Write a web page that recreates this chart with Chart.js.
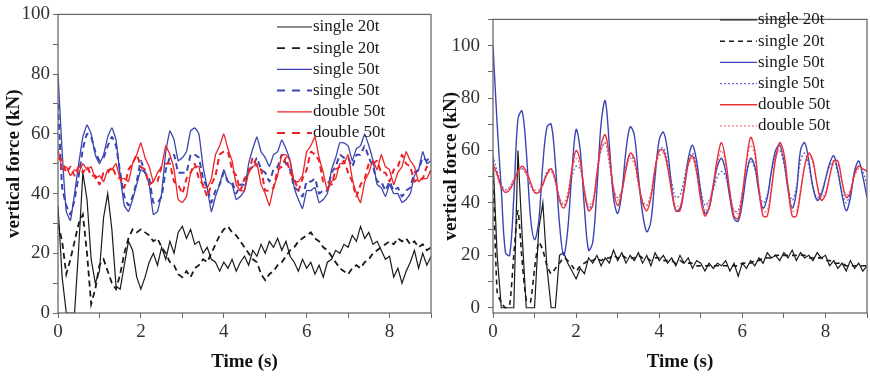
<!DOCTYPE html>
<html>
<head>
<meta charset="utf-8">
<script src="https://cdn.jsdelivr.net/npm/chart.js@4.4.1/dist/chart.umd.min.js"></script>
<style>
    html, body { margin: 0; padding: 0; background: #fff; }
    #wrap { position: relative; width: 870px; height: 376px; }
    .panel { position: absolute; top: 0; height: 376px; }
    #leftBox { left: 0; width: 437px; }
    #rightBox { left: 437px; width: 433px; }
</style>
</head>
<body>
<div id="wrap">
    <div class="panel" id="leftBox"><canvas id="leftChart"></canvas></div>
    <div class="panel" id="rightBox"><canvas id="rightChart"></canvas></div>
</div>
<script>
// ─── Data (sampled every 0.1 s, 0 … 9 s) ───
const TIME_STEP = 0.1;
const seriesLabels = ['single 20t', 'single 20t', 'single 50t', 'single 50t', 'double 50t', 'double 50t'];

// left panel
const leftSingle20 = [
    36, 12, 0, 0, 0, 22, 47, 38, 18, 10,
    14, 32, 40, 28, 9, 8, 16, 24, 21, 12,
    8, 12, 17, 20, 16, 22, 18, 24, 20, 27,
    29, 25, 28, 23, 24, 20, 22, 18, 17, 14,
    17, 15, 18, 14, 17, 19, 16, 21, 19, 23,
    20, 24, 22, 25, 21, 24, 19, 17, 14, 18,
    15, 17, 13, 16, 12, 17, 18, 21, 20, 23,
    22, 26, 24, 29, 25, 27, 23, 24, 21, 18,
    19, 12, 15, 10, 14, 17, 21, 15, 20, 16,
    19
];
const leftSingle20b = [
    30, 24, 13, 18, 24, 30, 33, 20, 3, 8,
    16, 18, 14, 10, 8, 13, 20, 25, 28, 27,
    28, 27, 26, 24, 25, 22, 20, 17, 16, 13,
    12, 14, 12, 15, 16, 18, 17, 20, 23, 26,
    28, 29, 27, 26, 24, 22, 20, 18, 17, 13,
    11, 13, 14, 16, 17, 19, 21, 22, 24, 25,
    26, 27, 25, 24, 22, 21, 19, 17, 15, 14,
    13, 15, 16, 15, 17, 18, 20, 21, 22, 23,
    24, 23, 25, 24, 25, 23, 24, 22, 23, 21,
    22
];
const leftSingle50 = [
    80, 54, 34, 31, 40, 50, 59, 63, 60, 53,
    50, 53, 59, 62, 58, 46, 36, 34, 38, 43,
    48, 47, 43, 33, 34, 40, 54, 61, 58, 51,
    52, 54, 61, 62, 60, 49, 42, 34, 39, 43,
    48, 44, 43, 38, 39, 41, 50, 55, 59, 54,
    52, 49, 53, 54, 58, 55, 51, 42, 38, 35,
    41, 41, 42, 37, 38, 40, 48, 52, 57, 57,
    56, 51, 55, 56, 60, 56, 51, 43, 42, 39,
    43, 40, 40, 37, 38, 40, 46, 48, 54, 50,
    51
];
const leftSingle50b = [
    70, 42, 36, 33, 38, 46, 55, 60, 59, 54,
    51, 52, 56, 59, 56, 47, 39, 36, 39, 44,
    51, 47, 45, 37, 37, 39, 48, 52, 53, 47,
    47, 47, 53, 53, 52, 45, 42, 37, 41, 43,
    47, 44, 44, 40, 43, 43, 48, 49, 52, 48,
    47, 44, 48, 49, 53, 50, 48, 42, 41, 39,
    44, 44, 45, 40, 41, 41, 47, 49, 53, 52,
    52, 49, 53, 53, 56, 52, 49, 44, 44, 41,
    44, 41, 42, 39, 41, 42, 47, 48, 52, 51,
    53
];
const leftDouble50 = [
    55, 48, 49, 46, 48, 47, 50, 48, 49, 45,
    46, 44, 48, 48, 50, 45, 45, 44, 50, 53,
    57, 52, 49, 44, 47, 49, 56, 53, 48, 38,
    37, 39, 47, 49, 49, 42, 42, 45, 53, 56,
    60, 55, 51, 43, 41, 41, 47, 49, 50, 43,
    40, 36, 42, 46, 53, 53, 51, 44, 44, 46,
    54, 56, 59, 52, 47, 41, 44, 45, 50, 50,
    53, 45, 40, 37, 44, 47, 51, 48, 53, 49,
    48, 43, 47, 49, 54, 51, 49, 44, 45, 45,
    48
];
const leftDouble50b = [
    52, 51, 47, 49, 46, 49, 47, 49, 46, 46,
    43, 47, 47, 49, 46, 45, 42, 48, 50, 53,
    49, 48, 43, 44, 44, 49, 50, 50, 44, 43,
    40, 45, 47, 50, 45, 43, 39, 43, 46, 53,
    54, 54, 48, 46, 41, 45, 47, 52, 49, 48,
    41, 41, 42, 48, 49, 52, 47, 45, 41, 45,
    48, 54, 53, 51, 44, 44, 43, 48, 49, 51,
    47, 44, 39, 43, 45, 50, 50, 51, 47, 47,
    44, 48, 49, 53, 50, 49, 44, 45, 45, 49,
    47
];

// right panel
const rightSingle20 = [
    57, 20, 0, 0, 0, 0, 60, 28, 0, 0,
    0, 30, 40, 15, 0, 0, 20, 21, 17, 14,
    11, 15, 13, 19, 17, 20, 16, 19, 17, 22,
    18, 21, 17, 20, 18, 21, 17, 20, 16, 21,
    18, 20, 17, 19, 16, 20, 17, 19, 15, 18,
    17, 14, 17, 15, 17, 16, 18, 14, 17, 12,
    17, 15, 18, 16, 19, 17, 21, 19, 20, 18,
    21, 19, 22, 18, 21, 19, 20, 18, 21, 19,
    20, 16, 18, 15, 17, 14, 18, 15, 17, 14,
    16
];
const rightSingle20b = [
    52, 6, 2, 0, 1, 20, 37, 18, 3, 2,
    15, 25, 22, 16, 13, 15, 17, 19, 18, 16,
    14, 16, 17, 18, 18, 19, 18, 19, 19, 20,
    19, 20, 19, 19, 19, 20, 19, 19, 18, 19,
    19, 18, 18, 18, 17, 18, 17, 17, 17, 16,
    16, 16, 16, 16, 16, 16, 16, 16, 16, 16,
    17, 17, 17, 18, 18, 19, 19, 19, 20, 20,
    20, 20, 20, 20, 20, 20, 19, 19, 19, 19,
    18, 18, 17, 17, 17, 16, 16, 16, 16, 16,
    16
];
const rightSingle50 = [
    100, 70, 45, 21, 20, 42, 72, 75, 60, 35,
    26, 33, 55, 69, 70, 55, 32, 20, 30, 52,
    68, 60, 38, 22, 25, 45, 70, 79, 62, 42,
    36, 44, 60, 69, 66, 50, 36, 29, 33, 50,
    64, 67, 60, 46, 37, 38, 46, 57, 62, 56,
    44, 36, 38, 46, 54, 57, 52, 42, 34, 33,
    40, 51, 57, 54, 44, 38, 42, 52, 60, 62,
    56, 45, 38, 44, 60, 63, 56, 46, 41, 43,
    49, 55, 58, 52, 43, 37, 42, 52, 56, 50,
    42
];
const rightSingle50b = [
    58, 52, 47, 45, 46, 49, 52, 53, 51, 47,
    44, 44, 47, 52, 53, 48, 42, 39, 42, 50,
    54, 53, 45, 38, 40, 50, 60, 63, 55, 45,
    42, 45, 54, 58, 56, 47, 40, 39, 43, 53,
    60, 61, 56, 48, 42, 43, 49, 56, 59, 54,
    45, 39, 41, 45, 50, 52, 50, 43, 37, 37,
    44, 52, 56, 53, 45, 40, 43, 52, 58, 60,
    55, 46, 41, 46, 56, 59, 54, 46, 42, 44,
    49, 54, 56, 51, 44, 40, 44, 51, 54, 52,
    47
];
const rightDouble50 = [
    55, 51, 46, 44, 45, 48, 52, 54, 52, 48,
    44, 44, 47, 51, 53, 49, 41, 38, 42, 53,
    60, 56, 44, 37, 39, 51, 62, 66, 58, 45,
    39, 44, 53, 59, 57, 48, 40, 37, 42, 53,
    60, 60, 54, 44, 37, 37, 45, 55, 58, 52,
    41, 35, 38, 47, 57, 63, 56, 44, 35, 34,
    43, 56, 65, 60, 45, 35, 35, 45, 57, 63,
    59, 46, 35, 35, 44, 54, 59, 56, 47, 41,
    43, 50, 56, 56, 48, 42, 44, 51, 54, 53,
    52
];
const rightDouble50b = [
    54, 50, 46, 45, 46, 49, 52, 53, 51, 47,
    45, 45, 48, 51, 52, 48, 42, 40, 44, 52,
    57, 54, 45, 39, 41, 51, 60, 63, 56, 46,
    41, 45, 52, 57, 55, 47, 41, 39, 44, 53,
    58, 59, 53, 45, 39, 39, 46, 54, 57, 51,
    42, 37, 40, 47, 55, 60, 55, 45, 37, 36,
    44, 55, 62, 58, 46, 37, 37, 46, 56, 61,
    57, 46, 37, 37, 45, 54, 58, 55, 47, 42,
    44, 50, 55, 55, 48, 43, 45, 50, 53, 53,
    52
];

const xTickLabels = [0, 2, 4, 6, 8];
const yTickLabels = [0, 20, 40, 60, 80, 100];

// ─── helpers ───
const SERIF = "'Liberation Serif', 'Times New Roman', serif";
const toPoints = arr => arr.map((v, i) => ({ x: +(i * TIME_STEP).toFixed(1), y: v }));

function makeDatasets(values, styles) {
    return values.map((vals, i) => ({
        label: seriesLabels[i],
        data: toPoints(vals),
        borderColor: styles[i].color,
        borderWidth: styles[i].width,
        borderDash: styles[i].dash,
        tension: styles[i].tension,
        order: styles[i].order,
        pointRadius: 0,
        fill: false
    }));
}

// frame around the plot area + hand-drawn legend (line sample + text)
const framePlugin = {
    id: 'frame',
    afterDatasetsDraw(chart) {
        const { ctx, chartArea: a } = chart;
        ctx.save();
        ctx.strokeStyle = '#6a6a6a';
        ctx.lineWidth = 1.3;
        ctx.strokeRect(a.left, a.top, a.right - a.left, a.bottom - a.top);
        ctx.restore();
    }
};

const lineLegend = {
    id: 'lineLegend',
    afterDraw(chart, args, opts) {
        const ctx = chart.ctx;
        ctx.save();
        ctx.font = opts.font;
        ctx.textBaseline = 'middle';
        chart.data.datasets.forEach((ds, i) => {
            const y = opts.top + i * opts.rowGap;
            ctx.strokeStyle = ds.borderColor;
            ctx.lineWidth = ds.borderWidth;
            ctx.setLineDash(opts.dashes[i]);
            ctx.beginPath();
            ctx.moveTo(opts.x0, y);
            ctx.lineTo(opts.x1, y);
            ctx.stroke();
            ctx.setLineDash([]);
            ctx.fillStyle = '#1a1a1a';
            ctx.fillText(ds.label, opts.x1 + 1, y);
        });
        ctx.restore();
    }
};

function makeOptions(cfg) {
    return {
        responsive: true,
        maintainAspectRatio: false,
        animation: false,
        layout: { padding: { left: 0, top: cfg.padTop, right: cfg.padRight, bottom: 0 } },
        plugins: {
            legend: { display: false },
            tooltip: { enabled: false },
            lineLegend: cfg.legend
        },
        scales: {
            x: {
                type: 'linear',
                min: 0,
                max: 9,
                afterFit: s => { s.height = 63; },
                ticks: {
                    stepSize: 1,
                    autoSkip: false,
                    maxRotation: 0,
                    padding: 3,
                    color: '#333',
                    font: { family: SERIF, size: 19 },
                    callback: v => xTickLabels.includes(v) ? v : ''
                },
                grid: { drawOnChartArea: false, tickLength: 5, tickColor: '#666' },
                border: { display: false },
                title: {
                    display: true,
                    text: cfg.xTitle,
                    color: '#111',
                    font: { family: SERIF, size: 19, weight: 'bold' },
                    padding: { top: 2, bottom: 3 }
                }
            },
            y: {
                min: cfg.yMin,
                max: cfg.yMax,
                afterFit: s => { s.width = cfg.yWidth; },
                afterBuildTicks: s => { s.ticks = s.ticks.filter(t => t.value % 10 === 0); },
                ticks: {
                    stepSize: 10,
                    includeBounds: false,
                    autoSkip: false,
                    padding: cfg.yPad,
                    color: '#333',
                    font: { family: SERIF, size: 19 },
                    callback: v => yTickLabels.includes(v) ? v : ''
                },
                grid: { drawOnChartArea: false, tickLength: 5, tickColor: '#666' },
                border: { display: false },
                title: {
                    display: true,
                    text: 'vertical force (kN)',
                    color: '#111',
                    font: { family: SERIF, size: 19, weight: 'bold' },
                    padding: { top: 3, bottom: 0 }
                }
            }
        }
    };
}

// ─── Left panel ───
const leftStyles = [
    { color: '#1a1a1a', width: 1.2, dash: [], tension: 0, order: 3 },
    { color: '#1a1a1a', width: 1.8, dash: [6, 4], tension: 0, order: 2 },
    { color: '#3b46b0', width: 1.3, dash: [], tension: 0.1, order: 1 },
    { color: '#3b46b0', width: 2, dash: [6, 4], tension: 0.1, order: 1 },
    { color: '#ec2228', width: 1.3, dash: [], tension: 0.1, order: 0 },
    { color: '#ec2228', width: 2, dash: [6, 4], tension: 0.1, order: 0 }
];

new Chart(document.getElementById('leftChart'), {
    type: 'line',
    data: {
        datasets: makeDatasets(
            [leftSingle20, leftSingle20b, leftSingle50, leftSingle50b, leftDouble50, leftDouble50b],
            leftStyles)
    },
    options: makeOptions({
        padTop: 12, padRight: 6, yMin: 0, yMax: 100, yWidth: 58, yPad: 3,
        xTitle: 'Time (s)',
        legend: {
            x0: 277, x1: 312, top: 27, rowGap: 21.2,
            font: `17px ${SERIF}`,
            dashes: [[], [8, 7], [], [8, 7], [], [8, 7]]
        }
    }),
    plugins: [framePlugin, lineLegend]
});

// ─── Right panel ───
const rightStyles = [
    { color: '#1a1a1a', width: 1.2, dash: [], tension: 0, order: 3 },
    { color: '#1a1a1a', width: 1.6, dash: [5, 4], tension: 0.2, order: 2 },
    { color: '#3b44b4', width: 1.4, dash: [], tension: 0.35, order: 1 },
    { color: '#6168cf', width: 1.3, dash: [2, 2], tension: 0.35, order: 1 },
    { color: '#e8303a', width: 1.4, dash: [], tension: 0.35, order: 0 },
    { color: '#f07c84', width: 1.3, dash: [2, 2], tension: 0.35, order: 0 }
];

new Chart(document.getElementById('rightChart'), {
    type: 'line',
    data: {
        datasets: makeDatasets(
            [rightSingle20, rightSingle20b, rightSingle50, rightSingle50b, rightDouble50, rightDouble50b],
            rightStyles)
    },
    options: makeOptions({
        padTop: 10, padRight: 3, yMin: -2, yMax: 110, yWidth: 56, yPad: 8,
        xTitle: 'Time (s)',
        legend: {
            x0: 283, x1: 320, top: 20, rowGap: 21.2,
            font: `17px ${SERIF}`,
            dashes: [[], [5, 4], [], [2, 2], [], [2, 2]]
        }
    }),
    plugins: [framePlugin, lineLegend]
});
</script>
</body>
</html>
